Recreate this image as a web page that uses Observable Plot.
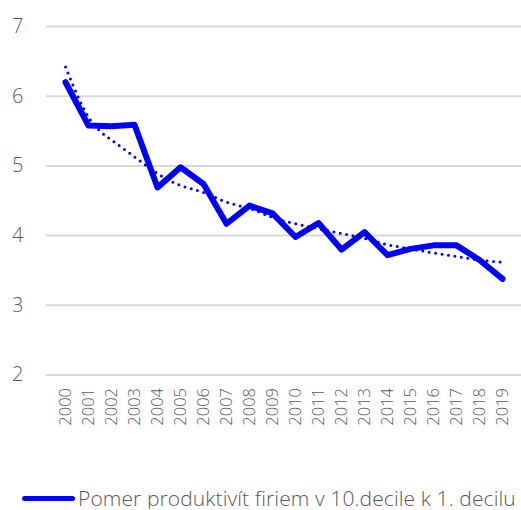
<!DOCTYPE html>
<html>
<head>
<meta charset="utf-8">
<script src="https://cdn.jsdelivr.net/npm/d3@7"></script>
<script src="https://cdn.jsdelivr.net/npm/@observablehq/plot@0.6"></script>
<style>
  html, body { margin: 0; padding: 0; background: #fff; }
  #chart { width: 521px; }
  .legend { display: flex; align-items: center; height: 22px; margin-top: 47px; padding-left: 22px; width: 499px; overflow: visible;
    font-family: "Open Sans", sans-serif; font-weight: 300; font-size: 21px; line-height: 1; letter-spacing: 0.1px; color: #595959; white-space: nowrap; }
  .legend .label { line-height: 1; }
  .swatch { flex: none; width: 53px; height: 5px; border-radius: 3px; background: #0000ff; margin-right: 3px; }
</style>
</head>
<body>
<div id="chart"></div>
<script>
const years = ["2000","2001","2002","2003","2004","2005","2006","2007","2008","2009","2010","2011","2012","2013","2014","2015","2016","2017","2018","2019"];
const ratio = [6.20, 5.58, 5.57, 5.59, 4.69, 4.98, 4.74, 4.17, 4.43, 4.32, 3.98, 4.18, 3.80, 4.05, 3.72, 3.81, 3.86, 3.86, 3.65, 3.38];
const trend = [6.42, 5.70, 5.37, 5.13, 4.89, 4.72, 4.62, 4.48, 4.39, 4.26, 4.17, 4.10, 4.03, 3.96, 3.87, 3.81, 3.75, 3.70, 3.65, 3.62];
const yTicks = [2, 3, 4, 5, 6, 7];
const seriesName = "Pomer produktivít firiem v 10.decile k 1. decilu";

const data = years.map((y, i) => ({year: y, ratio: ratio[i], trend: trend[i]}));

const plot = Plot.plot({
  width: 521,
  height: 440,
  marginLeft: 46,
  marginRight: 0,
  marginTop: 26,
  marginBottom: 65.5,
  style: {fontFamily: "Open Sans, sans-serif", color: "#595959", background: "#fff"},
  x: {type: "point", domain: years, padding: 0.44},
  y: {domain: [2, 7]},
  marks: [
    Plot.ruleY(yTicks, {stroke: "#d9d9d9", strokeWidth: 2}),
    Plot.axisY({ticks: yTicks, tickFormat: d => String(d), tickSize: 0, tickPadding: 23, fontSize: 20, fontWeight: 300, label: null, fill: "#595959"}),
    Plot.axisX({tickSize: 0, tickPadding: 13, tickRotate: -90, fontSize: 16.5, fontWeight: 300, label: null, fill: "#595959"}),
    Plot.line(data, {x: "year", y: "trend", stroke: "#0000ff", strokeWidth: 3, strokeDasharray: "0 6.5", strokeLinecap: "round", curve: "natural"}),
    Plot.line(data, {x: "year", y: "ratio", stroke: "#0000ff", strokeWidth: 6, strokeLinejoin: "round", strokeLinecap: "round"})
  ]
});
document.getElementById("chart").appendChild(plot);

const legend = document.createElement("div");
legend.className = "legend";
legend.innerHTML = `<span class="swatch"></span><span class="label"></span>`;
legend.lastChild.textContent = seriesName;
document.getElementById("chart").appendChild(legend);
</script>
</body>
</html>
